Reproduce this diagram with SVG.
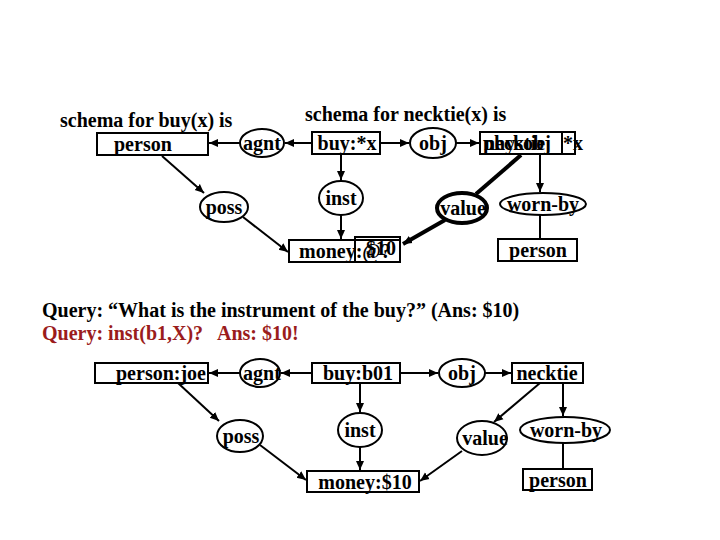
<svg xmlns="http://www.w3.org/2000/svg" width="720" height="540" viewBox="0 0 720 540">
<style>
text{font-family:"Liberation Serif","Times New Roman",serif;font-weight:bold;font-size:20px;fill:#000}
.c{text-anchor:middle}
.n{fill:#fff;stroke:#000;stroke-width:2}
.thick{stroke-width:4}
.ln{stroke:#000;stroke-width:2;fill:none}
.th{stroke:#000;stroke-width:4;fill:none}
.red{fill:#9b1c1c}
</style>
<defs>
<marker id="ah" markerUnits="userSpaceOnUse" markerWidth="10" markerHeight="10" refX="9" refY="5" orient="auto">
<path d="M0,1 L9,5 L0,9 z" fill="#000"/>
</marker>
</defs>
<rect width="720" height="540" fill="#fff"/>
<text x="60" y="127">schema for buy(x) is</text>
<text x="305" y="121">schema for necktie(x) is</text>
<g id="connectors">
<line class="ln" x1="312" y1="143" x2="285" y2="143" marker-end="url(#ah)"/>
<line class="ln" x1="240" y1="143" x2="209" y2="143" marker-end="url(#ah)"/>
<line class="ln" x1="380" y1="143" x2="409" y2="143" marker-end="url(#ah)"/>
<line class="ln" x1="456" y1="143" x2="479" y2="143" marker-end="url(#ah)"/>
<line class="ln" x1="341" y1="154" x2="341" y2="180" marker-end="url(#ah)"/>
<line class="ln" x1="341" y1="215" x2="341" y2="239" marker-end="url(#ah)"/>
<line class="ln" x1="162" y1="156" x2="204" y2="193" marker-end="url(#ah)"/>
<line class="ln" x1="243" y1="217" x2="288" y2="252" marker-end="url(#ah)"/>
<line class="th" x1="521" y1="155" x2="476" y2="194"/>
<line class="th" x1="445" y1="220" x2="403" y2="244" marker-end="url(#ah)"/>
<line class="ln" x1="540" y1="154" x2="540" y2="192" marker-end="url(#ah)"/>
<line class="ln" x1="540" y1="215" x2="540" y2="238"/>
<line class="ln" x1="312" y1="373" x2="281" y2="373" marker-end="url(#ah)"/>
<line class="ln" x1="240" y1="373" x2="209" y2="373" marker-end="url(#ah)"/>
<line class="ln" x1="400" y1="373" x2="438" y2="373" marker-end="url(#ah)"/>
<line class="ln" x1="485" y1="373" x2="511" y2="373" marker-end="url(#ah)"/>
<line class="ln" x1="360" y1="383" x2="360" y2="412" marker-end="url(#ah)"/>
<line class="ln" x1="360" y1="447" x2="360" y2="470" marker-end="url(#ah)"/>
<line class="ln" x1="178" y1="383" x2="219" y2="421" marker-end="url(#ah)"/>
<line class="ln" x1="260" y1="445" x2="306" y2="480" marker-end="url(#ah)"/>
<line class="ln" x1="540" y1="383" x2="494" y2="422" marker-end="url(#ah)"/>
<line class="ln" x1="462" y1="451" x2="420" y2="481" marker-end="url(#ah)"/>
<line class="ln" x1="563" y1="383" x2="563" y2="416" marker-end="url(#ah)"/>
<line class="ln" x1="563" y1="443" x2="563" y2="469"/>
</g>
<g id="t-person"><rect class="n" x="97" y="133" width="111" height="22"/><text x="114" y="151">person</text></g>
<g id="t-agnt"><ellipse class="n" cx="262" cy="143" rx="22" ry="14"/><text class="c" x="262" y="150">agnt</text></g>
<g id="t-buy"><rect class="n" x="312" y="132" width="68" height="22"/><text class="c" x="347" y="150">buy:*x</text></g>
<g id="t-obj"><ellipse class="n" cx="433" cy="143" rx="23" ry="15"/><text class="c" x="433" y="150">obj</text></g>
<g id="t-necktie"><rect class="n" x="480" y="132" width="95" height="22"/><line class="ln" x1="562" y1="132" x2="562" y2="154"/><text x="483" y="150">physobj</text><text x="484" y="150">necktie</text><text x="563" y="150">*x</text></g>
<g id="t-inst"><ellipse class="n" cx="341" cy="198" rx="22" ry="17"/><text class="c" x="341" y="205">inst</text></g>
<g id="t-poss"><ellipse class="n" cx="224" cy="207" rx="24" ry="15"/><text class="c" x="224" y="214">poss</text></g>
<g id="t-value"><ellipse class="n thick" cx="462" cy="208" rx="25" ry="15"/><text class="c" x="463" y="215">value</text></g>
<g id="t-wornby"><ellipse class="n" cx="543" cy="204" rx="43" ry="11"/><text class="c" x="543" y="211">worn-by</text></g>
<g id="t-money"><rect class="n" x="289" y="240" width="111" height="22"/><rect x="355" y="237" width="45" height="25" fill="none" stroke="#000" stroke-width="2"/><text x="299" y="258">money:@?</text><text x="366" y="255">$10</text></g>
<g id="t-person2"><rect class="n" x="498" y="239" width="79" height="22"/><text class="c" x="538" y="257">person</text></g>
<text x="42" y="317">Query: “What is the instrument of the buy?” (Ans: $10)</text>
<text class="red" x="42" y="340" xml:space="preserve">Query: inst(b1,X)?   Ans: $10!</text>
<g id="b-person"><rect class="n" x="95" y="363" width="113" height="20"/><text x="116" y="380">person:joe</text></g>
<g id="b-agnt"><ellipse class="n" cx="260" cy="373" rx="20" ry="14"/><text class="c" x="262" y="380">agnt</text></g>
<g id="b-buy"><rect class="n" x="312" y="363" width="88" height="20"/><text class="c" x="358" y="380">buy:b01</text></g>
<g id="b-obj"><ellipse class="n" cx="462" cy="373" rx="23" ry="14"/><text class="c" x="462" y="380">obj</text></g>
<g id="b-necktie"><rect class="n" x="512" y="363" width="71" height="20"/><text class="c" x="547" y="380">necktie</text></g>
<g id="b-poss"><ellipse class="n" cx="240" cy="436" rx="23" ry="16"/><text class="c" x="241" y="443">poss</text></g>
<g id="b-inst"><ellipse class="n" cx="360" cy="430" rx="22" ry="17"/><text class="c" x="360" y="437">inst</text></g>
<g id="b-value"><ellipse class="n" cx="482" cy="438" rx="25" ry="17"/><text class="c" x="485" y="445">value</text></g>
<g id="b-wornby"><ellipse class="n" cx="565" cy="430" rx="45" ry="13"/><text class="c" x="566" y="437">worn-by</text></g>
<g id="b-money"><rect class="n" x="307" y="471" width="112" height="21"/><text class="c" x="365" y="489">money:$10</text></g>
<g id="b-person2"><rect class="n" x="523" y="469" width="69" height="21"/><text class="c" x="558" y="487">person</text></g>
</svg>
